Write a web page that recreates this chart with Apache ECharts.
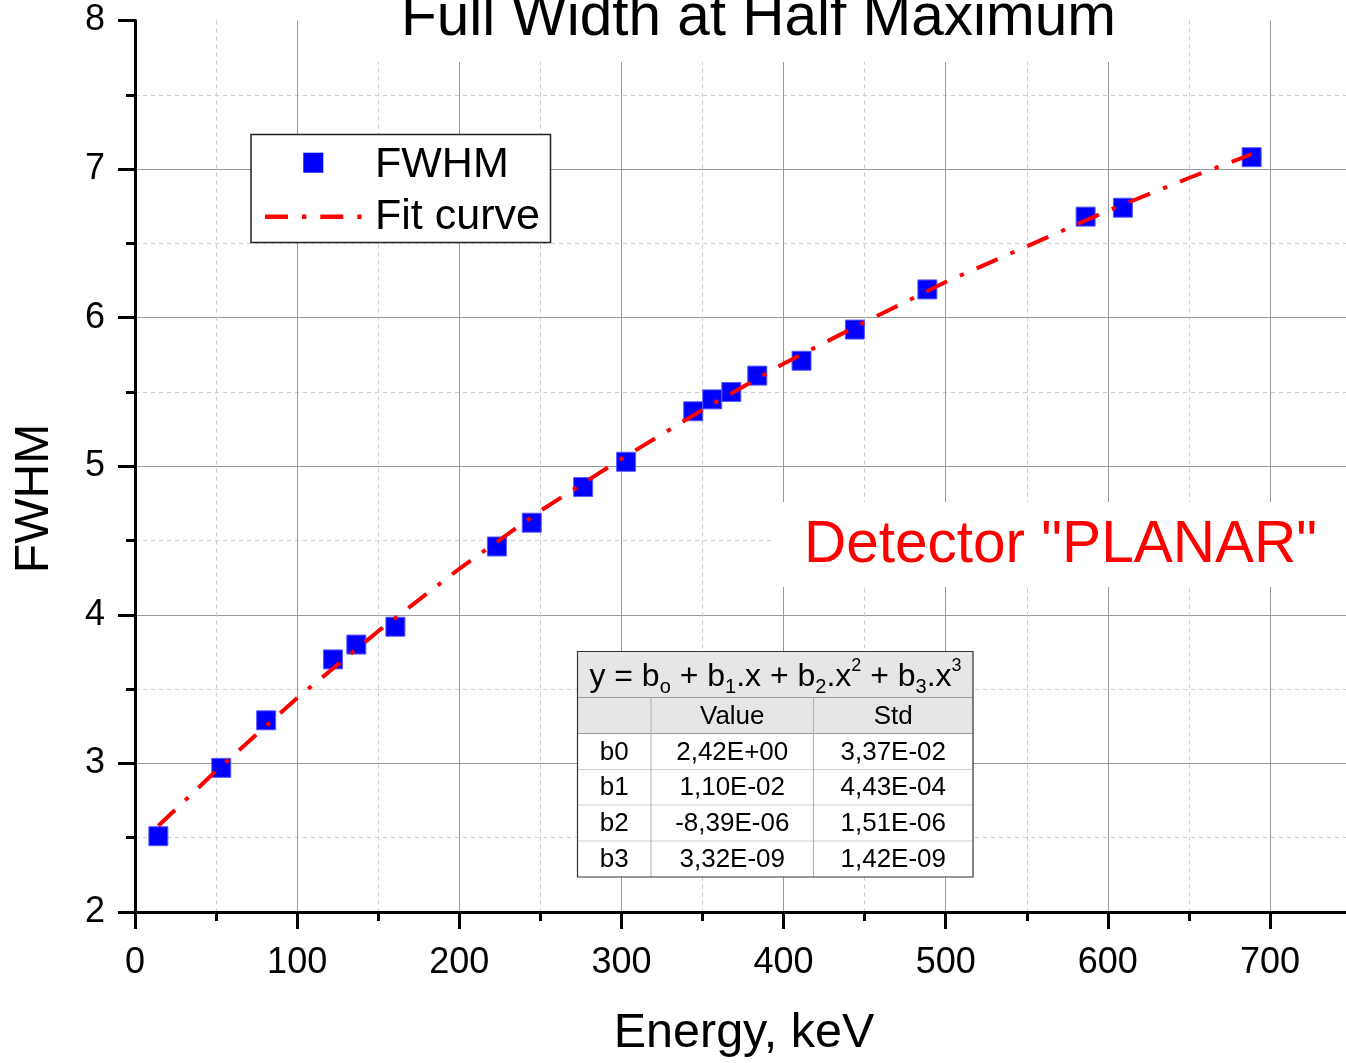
<!DOCTYPE html>
<html>
<head>
<meta charset="utf-8">
<script src="https://cdn.jsdelivr.net/npm/echarts@6/dist/echarts.min.js"></script>
<style>
html,body{margin:0;padding:0;background:#fff;}
#chart{width:1346px;height:1063px;}
</style>
</head>
<body>
<div id="chart"></div>
<script>
// ---- data ----
const energy = [14.4, 53.2, 80.9, 122.1, 136.5, 160.6, 223.2, 244.7, 276.4, 302.9, 344.3, 356.0, 367.8, 383.8, 411.1, 444.0, 488.7, 586.3, 609.3, 688.7];
const fwhm   = [2.51, 2.97, 3.29, 3.70, 3.80, 3.92, 4.46, 4.62, 4.86, 5.03, 5.37, 5.45, 5.50, 5.61, 5.71, 5.92, 6.19, 6.68, 6.74, 7.08];
const fitX   = [14.4, 50, 100, 150, 200, 250, 300, 350, 400, 450, 500, 550, 600, 650, 688.7];
const fitY   = [2.58, 2.95, 3.44, 3.89, 4.31, 4.70, 5.05, 5.38, 5.69, 5.97, 6.24, 6.48, 6.72, 6.94, 7.10];
const legendLabels = ['FWHM', 'Fit curve'];
const tableHeader = ['', 'Value', 'Std'];
const paramNames  = ['b0', 'b1', 'b2', 'b3'];
const paramValues = ['2,42E+00', '1,10E-02', '-8,39E-06', '3,32E-09'];
const paramStd    = ['3,37E-02', '4,43E-04', '1,51E-06', '1,42E-09'];
const titleText = 'Full Width at Half Maximum';
const xName = 'Energy, keV';
const yName = 'FWHM';
const noteText = 'Detector "PLANAR"';

const FONT = '"Liberation Sans", Arial, Helvetica, sans-serif';
const chart = echarts.init(document.getElementById('chart'), null, {renderer: 'canvas'});

function txt(text, x, y, size, opts) {
  opts = opts || {};
  return {
    type: 'text', z: 100, x: x, y: y, rotation: opts.rotation || 0,
    style: {
      text: text, x: 0, y: 0, fill: opts.fill || '#000',
      fontSize: size, fontFamily: FONT,
      align: opts.align || 'center', verticalAlign: 'middle',
      rich: opts.rich
    }
  };
}
function rect(x, y, w, h, style) {
  return {type: 'rect', z: 99, shape: {x: x, y: y, width: w, height: h}, style: style};
}
function line(x1, y1, x2, y2, style) {
  return {type: 'line', z: 100, shape: {x1: x1, y1: y1, x2: x2, y2: y2}, style: style};
}

const graphics = [];
// title
graphics.push(rect(370, 0, 775, 62, {fill: '#fff'}));
graphics.push(txt(titleText, 758.5, 18.7, 58.5));
// note
graphics.push(rect(773, 502, 573, 85, {fill: '#fff'}));
graphics.push(txt(noteText, 804, 546, 58.5, {fill: '#ff0000', align: 'left'}));
// axis names
graphics.push(txt(xName, 744, 1034, 48.5));
graphics.push(txt(yName, 34.5, 498.5, 48, {rotation: Math.PI / 2}));
// legend
graphics.push(rect(251, 134.5, 299.5, 108, {fill: '#fff', stroke: '#222', lineWidth: 1.5}));
graphics.push({type: 'rect', z: 100, shape: {x: 303.3, y: 152.7, width: 20, height: 20}, style: {fill: '#0000ff'}});
graphics.push(line(265, 216.7, 362, 216.7, {stroke: '#ff0000', lineWidth: 4.5, lineDash: [23, 14, 4.3, 14], lineCap: 'butt'}));
graphics.push(txt(legendLabels[0], 375, 165, 43, {align: 'left'}));
graphics.push(txt(legendLabels[1], 375, 217, 43, {align: 'left'}));
// table
const colX = [577.5, 651, 813.5, 973];
const rowY = [651.5, 697.5, 733.5, 769.5, 805, 841, 877];
graphics.push(rect(colX[0], rowY[0], colX[3] - colX[0], rowY[6] - rowY[0], {fill: '#fff'}));
graphics.push(rect(colX[0], rowY[0], colX[3] - colX[0], rowY[2] - rowY[0], {fill: '#e6e6e6'}));
for (let i = 2; i <= 5; i++) {
  graphics.push(line(colX[0], rowY[i], colX[3], rowY[i], {stroke: i === 2 ? '#9a9a9a' : '#d0d0d0', lineWidth: 1}));
}
graphics.push(line(colX[0], rowY[1], colX[3], rowY[1], {stroke: '#9a9a9a', lineWidth: 1}));
graphics.push(line(colX[1], rowY[1], colX[1], rowY[6], {stroke: '#b0b0b0', lineWidth: 1}));
graphics.push(line(colX[2], rowY[1], colX[2], rowY[6], {stroke: '#b0b0b0', lineWidth: 1}));
graphics.push({type: 'rect', z: 101, shape: {x: colX[0], y: rowY[0], width: colX[3] - colX[0], height: rowY[6] - rowY[0]}, style: {fill: 'none', stroke: '#333', lineWidth: 1.2}});
// equation
graphics.push(txt('{m|y = b}{s|o}{m| + b}{s|1}{m|.x + b}{s|2}{m|.x}{p|2}{m| + b}{s|3}{m|.x}{p|3}', 775.5, 677, 32, {
  rich: {
    m: {fontSize: 32, lineHeight: 40, fontFamily: FONT, fill: '#000'},
    s: {fontSize: 20, lineHeight: 22, verticalAlign: 'bottom', fontFamily: FONT, fill: '#000'},
    p: {fontSize: 18, lineHeight: 14, verticalAlign: 'top', fontFamily: FONT, fill: '#000'}
  }
}));
const colC = [(colX[0] + colX[1]) / 2, (colX[1] + colX[2]) / 2, (colX[2] + colX[3]) / 2];
for (let c = 0; c < 3; c++) {
  if (tableHeader[c]) graphics.push(txt(tableHeader[c], colC[c], (rowY[1] + rowY[2]) / 2 + 1, 26));
}
for (let r = 0; r < paramNames.length; r++) {
  const cy = (rowY[r + 2] + rowY[r + 3]) / 2 + 1;
  graphics.push(txt(paramNames[r], colC[0], cy, 26));
  graphics.push(txt(paramValues[r], colC[1], cy, 26));
  graphics.push(txt(paramStd[r], colC[2], cy, 26));
}

const axisCommon = {
  type: 'value',
  axisLine: {show: true, onZero: false, lineStyle: {color: '#000', width: 3}},
  axisTick: {show: true, length: 17, lineStyle: {color: '#000', width: 3}},
  minorTick: {show: true, splitNumber: 2, length: 9, lineStyle: {color: '#000', width: 3}},
  axisLabel: {fontSize: 36, color: '#000', fontFamily: FONT},
  splitLine: {show: true, lineStyle: {color: '#9a9a9a', width: 1}},
  minorSplitLine: {show: true, lineStyle: {color: '#cccccc', width: 1, type: [4, 4]}}
};

const option = {
  backgroundColor: '#fff',
  animation: false,
  grid: {left: 135, top: 20.5, width: 1297.1, bottom: 151, containLabel: false, outerBoundsMode: 'none'},
  xAxis: Object.assign({}, axisCommon, {
    min: 0, max: 800, interval: 100,
    axisLabel: Object.assign({}, axisCommon.axisLabel, {margin: 33})
  }),
  yAxis: Object.assign({}, axisCommon, {
    min: 2, max: 8, interval: 1,
    axisLabel: Object.assign({}, axisCommon.axisLabel, {margin: 30}),
    splitLine: {show: true, showMaxLine: false, lineStyle: {color: '#9a9a9a', width: 1}}
  }),
  series: [
    {
      name: legendLabels[0], type: 'scatter', z: 2,
      symbol: 'rect', symbolSize: 19,
      itemStyle: {color: '#0000ff', borderColor: '#5a5aff', borderWidth: 1, opacity: 1},
      data: energy.map((e, i) => [e, fwhm[i]])
    },
    {
      name: legendLabels[1], type: 'line', z: 3,
      showSymbol: false, smooth: false,
      lineStyle: {color: '#ff0000', width: 4, type: [23, 14, 4.3, 14], cap: 'butt'},
      data: fitX.map((x, i) => [x, fitY[i]])
    }
  ],
  graphic: graphics
};
chart.setOption(option);
</script>
</body>
</html>
